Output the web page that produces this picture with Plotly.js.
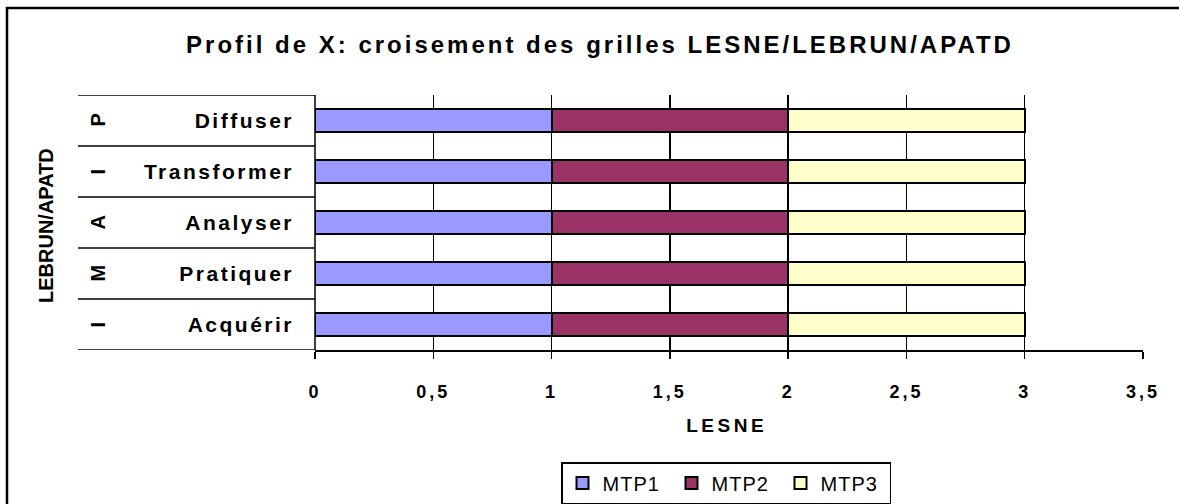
<!DOCTYPE html>
<html><head><meta charset="utf-8">
<script src="https://cdn.plot.ly/plotly-3.0.1.min.js"></script>
<style>
body{margin:0;background:#fff}#c{width:1179px;height:504px}
#c .gtitle{letter-spacing:3px}
#c .xtick text{letter-spacing:3px}
#c .ytick text{letter-spacing:2.5px}
#c .legendtext{letter-spacing:1px}
#c .annotation[data-index="0"] text{letter-spacing:3.5px}
</style>
</head><body><div id="c"></div>
<script>
const categories = ['Acquérir','Pratiquer','Analyser','Transformer','Diffuser'];
const groupLetters = ['I','M','A','I','P'];
const mtp1 = [1,1,1,1,1];
const mtp2 = [1,1,1,1,1];
const mtp3 = [1,1,1,1,1];
const seriesNames = ['MTP1','MTP2','MTP3'];
const colors = ['#9999FF','#993366','#FFFFCC'];

const W=1179,H=504,L=315,R=36,T=95,B=154;
const pw=W-L-R, ph=H-T-B;
const px=x=>(x-L)/pw, py=y=>(H-B-y)/ph;
const F='Arial, "Liberation Sans", sans-serif';

const traces=[mtp1,mtp2,mtp3].map((v,i)=>({
  type:'bar',orientation:'h',x:v,y:categories,name:seriesNames[i],
  marker:{color:colors[i],line:{color:'#000',width:2}},hoverinfo:'skip'
}));

const shapes=[];
for(let k=0;k<=categories.length;k++){
  shapes.push({type:'line',xref:'paper',yref:'y',x0:px(78),x1:0,y0:k-0.5,y1:k-0.5,line:{color:'#000',width:1.5}});
}
shapes.push({type:'line',xref:'paper',yref:'paper',x0:0,x1:0,y0:0,y1:1,line:{color:'#000',width:1.5}});
shapes.push({type:'rect',xref:'paper',yref:'paper',x0:px(7),x1:px(1250),y0:py(8),y1:py(560),line:{color:'#000',width:2.5}});

const annotations=[];
annotations.push({xref:'paper',yref:'paper',x:px(726),y:py(425),text:'<b>LESNE</b>',showarrow:false,
  xanchor:'center',yanchor:'middle',font:{family:F,size:19,color:'#000'}});
annotations.push({xref:'paper',yref:'paper',x:px(46),y:py(226),text:'<b>LEBRUN/APATD</b>',showarrow:false,textangle:-90,
  xanchor:'center',yanchor:'middle',font:{family:F,size:20,color:'#000'}});
groupLetters.forEach((g,i)=>annotations.push({
  xref:'paper',yref:'y',x:px(97),y:i,text:'<b>'+g+'</b>',showarrow:false,textangle:-90,
  font:{family:F,size:20,color:'#000'},xanchor:'center',yanchor:'middle'
}));

const layout={
  width:W,height:H,margin:{l:L,r:R,t:T,b:B,autoexpand:false},
  paper_bgcolor:'#fff',plot_bgcolor:'#fff',separators:', ',
  barmode:'stack',bargap:0.55,showlegend:true,
  title:{text:'<b>Profil de X: croisement des grilles LESNE/LEBRUN/APATD</b>',x:600/W,xanchor:'center',y:1-45/H,yanchor:'middle',
    font:{family:F,size:24,color:'#000'}},
  xaxis:{range:[0,3.5],dtick:0.5,tick0:0,showgrid:true,gridcolor:'#000',gridwidth:1.5,zeroline:false,automargin:false,
    showline:true,linecolor:'#000',linewidth:1.5,ticks:'outside',ticklen:7,tickwidth:1.5,tickcolor:'#000',
    ticklabelstandoff:18,tickfont:{family:F,size:18,color:'#000',weight:'bold'},fixedrange:true},
  yaxis:{type:'category',categoryarray:categories,range:[-0.5,4.5],showgrid:false,zeroline:false,showline:false,automargin:false,
    ticks:'',ticklabelstandoff:20,tickfont:{family:F,size:21,color:'#000',weight:'bold'},fixedrange:true},
  legend:{orientation:'h',x:px(726),xanchor:'center',y:py(462),yanchor:'top',bordercolor:'#000',borderwidth:1.5,
    font:{family:F,size:20,color:'#000'},traceorder:'normal',itemwidth:30,entrywidth:64,entrywidthmode:'pixels'},
  shapes:shapes,annotations:annotations
};
Plotly.newPlot('c',traces,layout,{displayModeBar:false,staticPlot:true});
</script></body></html>
